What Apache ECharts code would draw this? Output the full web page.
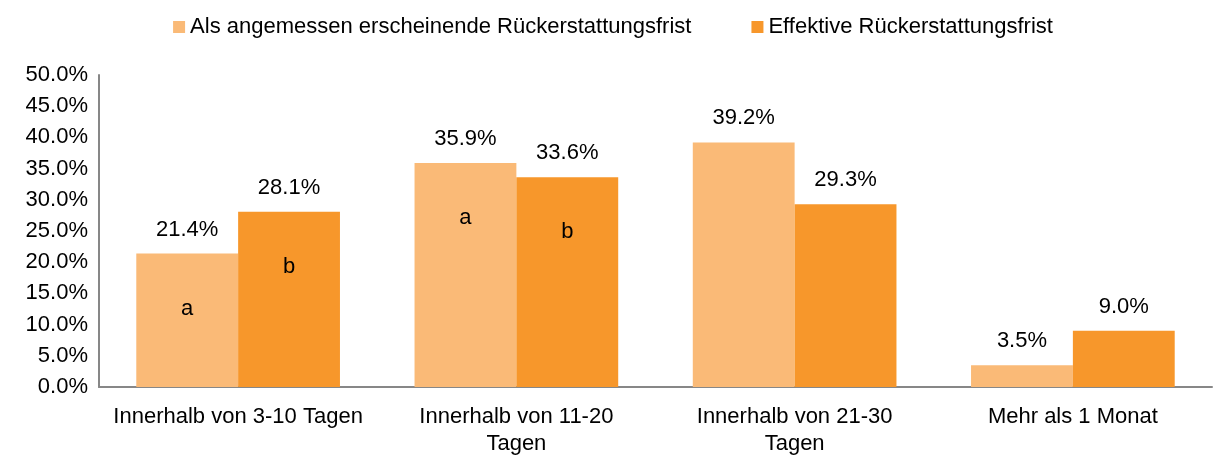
<!DOCTYPE html>
<html>
<head>
<meta charset="utf-8">
<script src="https://cdn.jsdelivr.net/npm/echarts@6/dist/echarts.min.js"></script>
<style>
  html, body { margin: 0; padding: 0; background: #fff; }
  #chart { width: 1226px; height: 457px; }
</style>
</head>
<body>
<div id="chart"></div>
<script>
  const categories = [
    'Innerhalb von 3-10 Tagen',
    'Innerhalb von 11-20\nTagen',
    'Innerhalb von 21-30\nTagen',
    'Mehr als 1 Monat'
  ];
  const seriesNames = ['Als angemessen erscheinende Rückerstattungsfrist', 'Effektive Rückerstattungsfrist'];
  const angemessen = [21.4, 35.9, 39.2, 3.5];
  const effektiv = [28.1, 33.6, 29.3, 9.0];
  const lettersA = ['a', 'a', '', ''];
  const lettersB = ['b', 'b', '', ''];

  const font = 'Liberation Sans, Arial, sans-serif';
  const fs = 22;

  // buchstaben als markPoints direkt unter der balkenoberkante
  const letterMarks = (vals, letters) => ({
    symbol: 'rect',
    symbolSize: 0,
    label: {
      show: true,
      position: 'inside',
      offset: [0, 55],
      formatter: (p) => p.value,
      color: '#000',
      fontSize: fs,
      fontFamily: font
    },
    data: letters
      .map((l, i) => ({ coord: [i, vals[i]], value: l }))
      .filter((d) => d.value)
  });

  const barLabel = {
    show: true,
    position: 'top',
    distance: 13,
    color: '#000',
    fontSize: fs,
    fontFamily: font,
    formatter: (p) => p.value.toFixed(1) + '%'
  };

  const chart = echarts.init(document.getElementById('chart'));
  chart.setOption({
    animation: false,
    textStyle: { fontFamily: font },
    legend: {
      top: 11,
      left: 'center',
      itemWidth: 12,
      itemHeight: 12,
      itemGap: 60,
      icon: 'rect',
      textStyle: { fontSize: fs, color: '#000', fontFamily: font },
      data: seriesNames
    },
    grid: { left: 99, right: 14, top: 75, bottom: 69 },
    xAxis: {
      type: 'category',
      data: categories,
      axisTick: { show: false },
      axisLine: { lineStyle: { color: '#878787', width: 2 } },
      axisLabel: {
        interval: 0,
        margin: 16,
        color: '#000',
        fontSize: fs,
        lineHeight: 27,
        fontFamily: font
      }
    },
    yAxis: {
      type: 'value',
      min: 0,
      max: 50,
      interval: 5,
      splitLine: { show: false },
      axisTick: { show: false },
      axisLine: { show: true, lineStyle: { color: '#878787', width: 2 } },
      axisLabel: {
        margin: 11,
        color: '#000',
        fontSize: fs,
        fontFamily: font,
        formatter: (v) => v.toFixed(1) + '%'
      }
    },
    series: [
      {
        name: seriesNames[0],
        type: 'bar',
        data: angemessen,
        barWidth: '36.6%',
        barGap: '0%',
        itemStyle: { color: '#FABA77' },
        label: barLabel,
        markPoint: letterMarks(angemessen, lettersA)
      },
      {
        name: seriesNames[1],
        type: 'bar',
        data: effektiv,
        barWidth: '36.6%',
        itemStyle: { color: '#F7972B' },
        label: barLabel,
        markPoint: letterMarks(effektiv, lettersB)
      }
    ]
  });
</script>
</body>
</html>
